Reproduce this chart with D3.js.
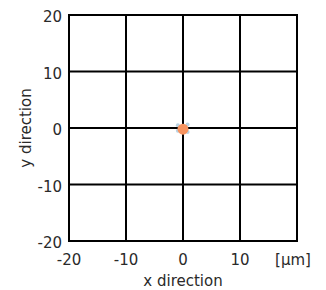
<!DOCTYPE html>
<meta charset="utf-8">
<style>
body { margin: 0; background: #fff; }
text { font-family: "DejaVu Sans", Verdana, sans-serif; fill: #2a2a2a; }
</style>
<svg width="326" height="290"></svg>
<script src="https://cdn.jsdelivr.net/npm/d3@7"></script>
<script>

var xTicks = [-20, -10, 0, 10, 20],
    yTicks = [-20, -10, 0, 10, 20];

// faint spread points around the centre (x, y in µm)
var spreadX = [-0.9, 0.8, 0.8, -0.9],
    spreadY = [0.5, 0.6, -0.7, -0.5];

// main spot
var spotX = [0],
    spotY = [-0.2];

var svg = d3.select("svg"),
    margin = {top: 15, right: 29, bottom: 49, left: 69},
    width = +svg.attr("width") - margin.left - margin.right,
    height = +svg.attr("height") - margin.top - margin.bottom;

var x = d3.scaleLinear().domain([-20, 20]).range([0, width]),
    y = d3.scaleLinear().domain([-20, 20]).range([height, 0]);

var g = svg.append("g")
    .attr("transform", "translate(" + margin.left + "," + margin.top + ")");

// grid
g.selectAll(".vline")
    .data(xTicks)
    .enter().append("line")
    .attr("x1", function(d) { return x(d); })
    .attr("x2", function(d) { return x(d); })
    .attr("y1", -1)
    .attr("y2", height + 1)
    .attr("stroke", "#000")
    .attr("stroke-width", 2);

g.selectAll(".hline")
    .data(yTicks)
    .enter().append("line")
    .attr("y1", function(d) { return y(d); })
    .attr("y2", function(d) { return y(d); })
    .attr("x1", -1)
    .attr("x2", width + 1)
    .attr("stroke", "#000")
    .attr("stroke-width", 2);

// tick labels
g.selectAll(".xt")
    .data(xTicks.slice(0, 4))
    .enter().append("text")
    .attr("x", function(d) { return x(d); })
    .attr("y", height + 24)
    .attr("text-anchor", "middle")
    .attr("font-size", 15)
    .text(function(d) { return d; });

g.append("text")
    .attr("x", x(20) - 4)
    .attr("y", height + 24)
    .attr("text-anchor", "middle")
    .attr("font-size", 15)
    .text("[µm]");

g.selectAll(".yt")
    .data(yTicks)
    .enter().append("text")
    .attr("x", -7)
    .attr("y", function(d) { return y(d) + 2; })
    .attr("dy", "0.35em")
    .attr("text-anchor", "end")
    .attr("font-size", 15)
    .text(function(d) { return d; });

// axis titles
g.append("text")
    .attr("x", width / 2)
    .attr("y", height + 45)
    .attr("text-anchor", "middle")
    .attr("font-size", 15)
    .text("x direction");

g.append("text")
    .attr("transform", "translate(" + (-38) + "," + (height / 2) + ") rotate(-90)")
    .attr("text-anchor", "middle")
    .attr("font-size", 15)
    .text("y direction");

// points
g.selectAll(".spread")
    .data(spreadX)
    .enter().append("circle")
    .attr("cx", function(d) { return x(d); })
    .attr("cy", function(d, i) { return y(spreadY[i]); })
    .attr("r", 2)
    .attr("fill", "#b9d3e3");

g.selectAll(".spot")
    .data(spotX)
    .enter().append("circle")
    .attr("cx", function(d) { return x(d); })
    .attr("cy", function(d, i) { return y(spotY[i]); })
    .attr("r", 5.5)
    .attr("fill", "#f7935f");

</script>
